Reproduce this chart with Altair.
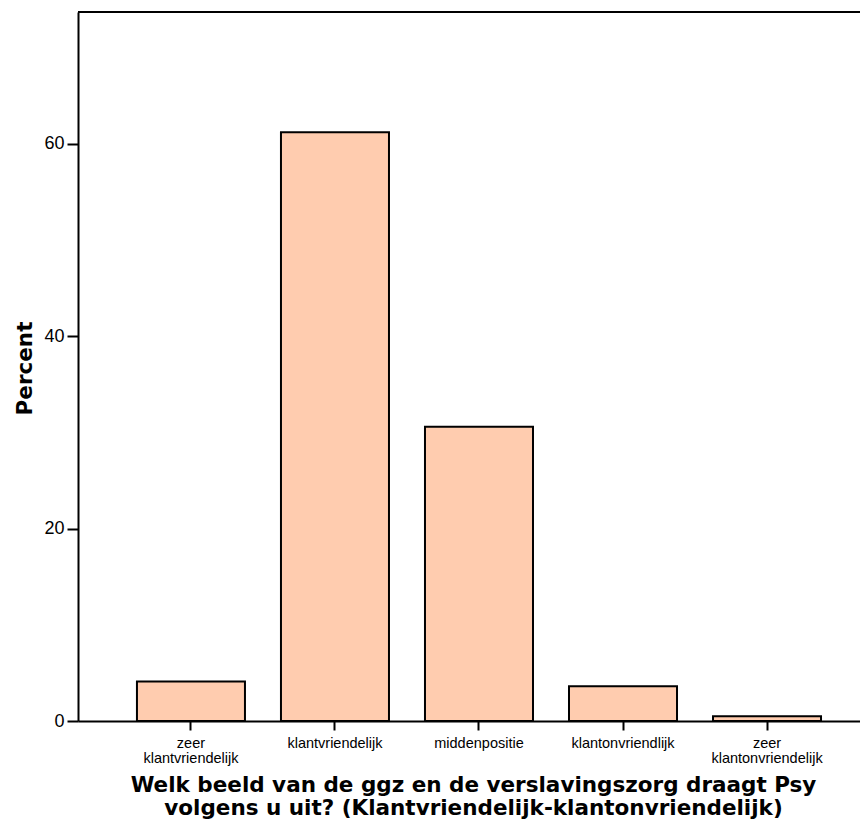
import altair as alt
import pandas as pd

categories = ["zeer|klantvriendelijk", "klantvriendelijk", "middenpositie",
              "klantonvriendlijk", "zeer|klantonvriendelijk"]
percent = [4.1, 61.2, 30.6, 3.6, 0.5]
y_ticks = [0, 20, 40, 60]

df = pd.DataFrame({"cat": categories, "pct": percent})

W, H = 782, 709
FONT = "Liberation Sans"
TFONT = "DejaVu Sans"

bars = alt.Chart(df).mark_bar(
    fill="#FFCCAF", stroke="black", strokeWidth=2
).encode(
    x=alt.X("cat:N", sort=categories,
            scale=alt.Scale(paddingInner=0.25, paddingOuter=0.34, align=0.602),
            axis=alt.Axis(
                title=["Welk beeld van de ggz en de verslavingszorg draagt Psy",
                       "volgens u uit? (Klantvriendelijk-klantonvriendelijk)"],
                labelExpr="split(datum.label, '|')",
                labelAngle=0, labelFont=FONT, labelFontSize=14.5,
                labelLineHeight=15, labelColor="black", labelPadding=6,
                tickSize=9, tickWidth=2, tickColor="black",
                domainWidth=2, domainColor="black",
                titleFont=TFONT, titleFontSize=21.5, titleFontWeight="bold",
                titleColor="black", titleLineHeight=23,
                titleY=70, titleBaseline="alphabetic", titleX=395,
                titleAlign="center",
            )),
    y=alt.Y("pct:Q",
            scale=alt.Scale(domain=[0, 73.7], nice=False, zero=True),
            axis=alt.Axis(
                title="Percent", values=y_ticks, grid=False,
                labelFont=FONT, labelFontSize=18, labelColor="black",
                labelPadding=3, tickSize=11, tickWidth=2, tickColor="black",
                domainWidth=2, domainColor="black",
                titleFont=TFONT, titleFontSize=21.5, titleFontWeight="bold",
                titleColor="black", titleX=-47, titleY=356,
                titleAngle=-90, titleBaseline="alphabetic", titleAlign="center",
            )),
)

top = alt.Chart(pd.DataFrame({"a": [0]})).mark_rule(
    color="black", strokeWidth=2
).encode(y=alt.value(0), x=alt.value(0), x2=alt.value(W))

chart = alt.layer(bars, top).properties(
    width=W, height=H,
    autosize=alt.AutoSizeParams(type="none"),
    padding={"left": 70, "top": 4, "right": 0, "bottom": 98},
).configure_view(stroke=None).configure(background="white")

chart.save("out.html", embed_options={"renderer": "svg", "actions": False})
